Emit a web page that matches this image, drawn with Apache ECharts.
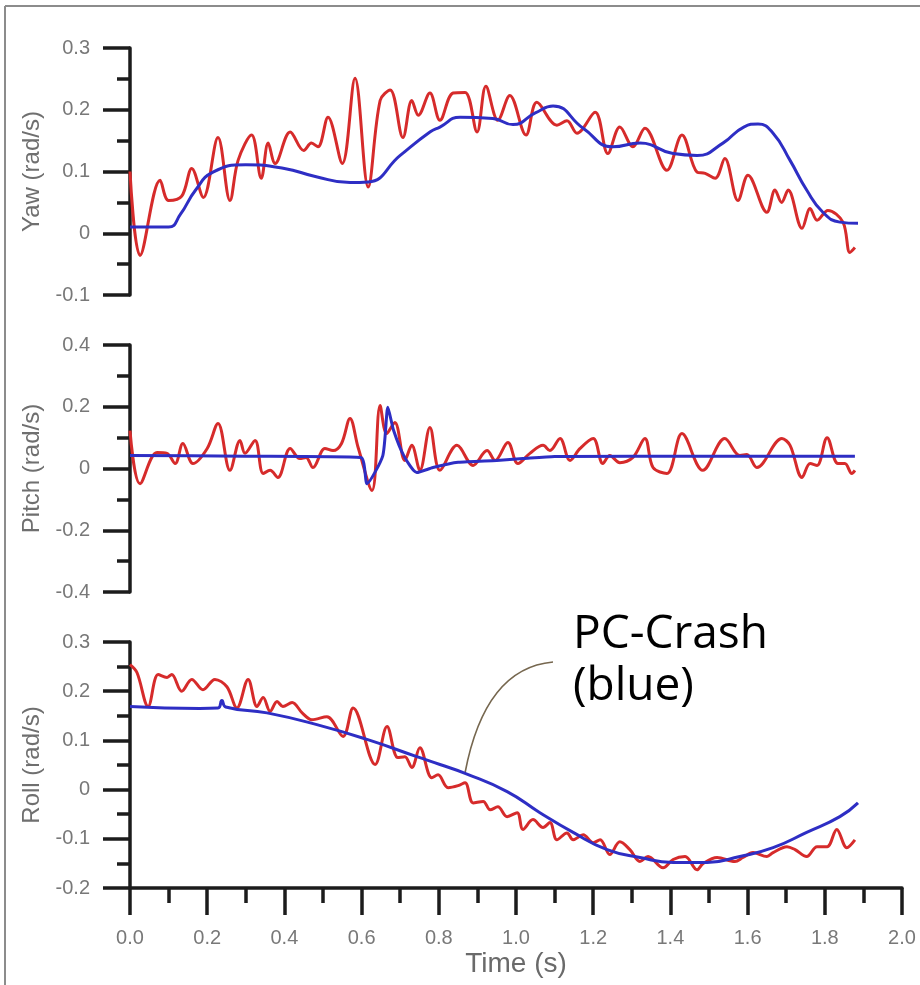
<!DOCTYPE html>
<html>
<head>
<meta charset="utf-8">
<script src="https://cdn.jsdelivr.net/npm/echarts@6/dist/echarts.min.js"></script>
<style>
  html, body { margin: 0; padding: 0; background: #fff; }
  #chart { width: 920px; height: 985px; }
</style>
</head>
<body>
<div id="chart"></div>
<script>
// x ticks
var timeTicks = [0, 0.2, 0.4, 0.6, 0.8, 1.0, 1.2, 1.4, 1.6, 1.8, 2.0];

// Yaw - test (red)
var yawTestT = [0.000,0.026,0.078,0.100,0.134,0.160,0.190,0.228,0.259,0.280,0.315,0.340,0.358,0.376,0.415,0.450,0.470,0.487,0.513,0.550,0.583,0.617,0.648,0.674,0.707,0.730,0.747,0.777,0.803,0.837,0.868,0.899,0.922,0.953,0.984,1.026,1.054,1.106,1.132,1.158,1.205,1.238,1.269,1.303,1.334,1.391,1.430,1.469,1.490,1.516,1.541,1.575,1.601,1.650,1.671,1.688,1.705,1.741,1.762,1.780,1.808,1.847,1.865,1.878];
var yawTestV = [0.100,-0.036,0.086,0.053,0.060,0.105,0.058,0.155,0.053,0.118,0.159,0.089,0.146,0.113,0.164,0.134,0.146,0.140,0.188,0.113,0.251,0.075,0.215,0.232,0.155,0.215,0.191,0.227,0.183,0.227,0.228,0.164,0.238,0.183,0.223,0.159,0.212,0.175,0.182,0.162,0.196,0.129,0.172,0.140,0.170,0.102,0.159,0.099,0.097,0.089,0.121,0.053,0.094,0.034,0.070,0.050,0.070,0.008,0.040,0.021,0.037,0.018,-0.031,-0.023];
// Yaw - PC-Crash (blue)
var yawSimT = [0.000,0.100,0.130,0.170,0.215,0.300,0.400,0.480,0.570,0.617,0.700,0.777,0.803,0.855,0.940,0.992,1.050,1.096,1.174,1.251,1.321,1.407,1.469,1.536,1.590,1.627,1.666,1.710,1.753,1.795,1.839,1.886];
var yawSimV = [0.010,0.010,0.030,0.070,0.099,0.111,0.105,0.092,0.082,0.083,0.126,0.164,0.172,0.188,0.186,0.176,0.195,0.206,0.170,0.140,0.146,0.129,0.126,0.146,0.172,0.177,0.162,0.118,0.070,0.034,0.018,0.016];

// Pitch - test (red)
var pitchTestT = [0.000,0.026,0.070,0.096,0.117,0.137,0.163,0.200,0.228,0.259,0.285,0.298,0.324,0.345,0.363,0.383,0.415,0.440,0.456,0.474,0.505,0.526,0.548,0.570,0.591,0.627,0.648,0.665,0.686,0.712,0.730,0.751,0.777,0.803,0.847,0.889,0.925,0.946,0.979,1.005,1.036,1.070,1.088,1.114,1.140,1.166,1.200,1.225,1.243,1.269,1.303,1.334,1.355,1.391,1.430,1.484,1.541,1.580,1.598,1.624,1.689,1.710,1.741,1.762,1.780,1.806,1.834,1.852,1.870,1.878];
var pitchTestV = [0.123,-0.049,0.052,0.049,0.016,0.081,0.016,0.065,0.146,-0.006,0.091,0.049,0.091,-0.016,-0.006,-0.029,0.065,0.032,0.036,0.003,0.065,0.058,0.081,0.162,0.068,-0.071,0.204,0.113,0.149,0.026,0.075,-0.006,0.133,-0.006,0.075,0.010,0.058,0.026,0.084,0.016,0.049,0.075,0.058,0.097,0.026,0.065,0.097,0.016,0.042,0.019,0.036,0.097,0.003,-0.016,0.113,-0.006,0.097,0.042,0.045,0.003,0.097,0.075,-0.029,0.016,0.010,0.100,0.016,0.016,-0.016,-0.006];
// Pitch - PC-Crash (blue)
var pitchSimT = [0.000,0.300,0.598,0.614,0.655,0.668,0.683,0.710,0.743,0.785,0.850,0.950,1.018,1.100,1.300,1.878];
var pitchSimV = [0.042,0.040,0.036,-0.049,0.042,0.198,0.123,0.040,-0.013,0.003,0.020,0.026,0.032,0.039,0.040,0.040];

// Roll - test (red)
var rollTestT = [0.000,0.018,0.047,0.073,0.096,0.108,0.134,0.160,0.189,0.220,0.251,0.277,0.306,0.329,0.345,0.363,0.381,0.396,0.420,0.446,0.471,0.510,0.552,0.578,0.635,0.666,0.694,0.712,0.730,0.751,0.782,0.798,0.824,0.850,0.868,0.889,0.915,0.933,0.953,0.977,1.003,1.018,1.044,1.070,1.088,1.106,1.132,1.148,1.174,1.200,1.218,1.243,1.269,1.295,1.321,1.342,1.381,1.407,1.438,1.469,1.485,1.521,1.567,1.588,1.614,1.650,1.666,1.702,1.723,1.753,1.780,1.806,1.831,1.857,1.878];
var rollTestV = [0.254,0.238,0.169,0.234,0.228,0.234,0.200,0.224,0.203,0.224,0.209,0.166,0.224,0.169,0.187,0.159,0.179,0.169,0.177,0.156,0.142,0.148,0.108,0.166,0.051,0.128,0.065,0.067,0.045,0.085,0.024,0.030,0.004,0.008,0.014,-0.027,-0.024,-0.041,-0.035,-0.055,-0.047,-0.081,-0.061,-0.077,-0.067,-0.102,-0.088,-0.102,-0.092,-0.108,-0.102,-0.132,-0.106,-0.122,-0.146,-0.136,-0.159,-0.142,-0.136,-0.163,-0.150,-0.138,-0.146,-0.138,-0.128,-0.136,-0.128,-0.116,-0.122,-0.136,-0.116,-0.116,-0.081,-0.118,-0.102];
// Roll - PC-Crash (blue)
var rollSimT = [0.000,0.180,0.228,0.238,0.248,0.355,0.484,0.614,0.743,0.803,0.868,0.977,1.062,1.148,1.236,1.321,1.407,1.495,1.580,1.666,1.753,1.839,1.886];
var rollSimV = [0.169,0.165,0.166,0.181,0.168,0.156,0.132,0.102,0.067,0.051,0.033,-0.004,-0.047,-0.087,-0.122,-0.138,-0.148,-0.148,-0.136,-0.118,-0.087,-0.055,-0.027];

function zip(t, v) {
  var out = [];
  for (var i = 0; i < t.length; i++) out.push([t[i], v[i]]);
  return out;
}

var RED = '#d62b2b';
var BLUE = '#2e2ec4';
var AXIS = '#1c1c1c';
var LABEL = '#787878';
var FONT = 'Liberation Sans, Arial, sans-serif';

function yAxis(idx, min, max, interval, name) {
  return {
    type: 'value', gridIndex: idx, min: min, max: max, interval: interval,
    name: name, nameLocation: 'middle', nameGap: 83,
    nameTextStyle: { fontSize: 24, color: '#6f6f6f', fontFamily: FONT },
    axisLine: { show: true, lineStyle: { color: AXIS, width: 3.5 } },
    axisTick: { show: true, length: 27, lineStyle: { color: AXIS, width: 3.5 } },
    minorTick: { show: true, splitNumber: 2, length: 13, lineStyle: { color: AXIS, width: 3.5 } },
    splitLine: { show: false },
    axisLabel: {
      margin: 40, fontSize: 20, color: LABEL, fontFamily: FONT,
      formatter: function (v) { return Math.abs(v) < 1e-9 ? '0' : v.toFixed(1); }
    }
  };
}

function xAxis(idx, show) {
  return {
    type: 'value', gridIndex: idx, min: 0, max: 2, interval: 0.2, show: show,
    name: show ? 'Time (s)' : '', nameLocation: 'middle', nameGap: 62,
    nameTextStyle: { fontSize: 28, color: '#6a6a6a', fontFamily: FONT },
    axisLine: { show: true, onZero: false, lineStyle: { color: AXIS, width: 3.5 } },
    axisTick: { show: true, length: 27, lineStyle: { color: AXIS, width: 3.5 } },
    minorTick: { show: true, splitNumber: 2, length: 15, lineStyle: { color: AXIS, width: 3.5 } },
    splitLine: { show: false },
    axisLabel: {
      margin: 40, fontSize: 20, color: LABEL, fontFamily: FONT,
      formatter: function (v) { return v.toFixed(1); }
    }
  };
}

function line(idx, data, color, smooth) {
  return {
    type: 'line', xAxisIndex: idx, yAxisIndex: idx, data: data,
    showSymbol: false, smooth: smooth, clip: false,
    lineStyle: { color: color, width: 3 }
  };
}

var chart = echarts.init(document.getElementById('chart'), null, { renderer: 'canvas' });

var option = {
  backgroundColor: '#ffffff',
  animation: false,
  grid: [
    { left: 130, right: 18, top: 48, height: 247 },
    { left: 130, right: 18, top: 345, height: 247 },
    { left: 130, right: 18, top: 642, height: 246 }
  ],
  xAxis: [xAxis(0, false), xAxis(1, false), xAxis(2, true)],
  yAxis: [
    yAxis(0, -0.1, 0.3, 0.1, 'Yaw (rad/s)'),
    yAxis(1, -0.4, 0.4, 0.2, 'Pitch (rad/s)'),
    yAxis(2, -0.2, 0.3, 0.1, 'Roll (rad/s)')
  ],
  series: [
    line(0, zip(yawTestT, yawTestV), RED, 0.35),
    line(0, zip(yawSimT, yawSimV), BLUE, 0.5),
    line(1, zip(pitchTestT, pitchTestV), RED, 0.35),
    line(1, zip(pitchSimT, pitchSimV), BLUE, 0.2),
    line(2, zip(rollTestT, rollTestV), RED, 0.35),
    line(2, zip(rollSimT, rollSimV), BLUE, 0.5)
  ],
  graphic: [
    // outer frame
    { type: 'line', shape: { x1: 5, y1: 6, x2: 5, y2: 985 }, style: { stroke: '#8c8c8c', lineWidth: 2 } },
    { type: 'line', shape: { x1: 5, y1: 6, x2: 920, y2: 6 }, style: { stroke: '#8c8c8c', lineWidth: 2 } },
    // callout
    { type: 'bezierCurve', shape: { x1: 553, y1: 662, cpx1: 485, cpy1: 668, x2: 465, y2: 773 },
      style: { stroke: '#76674f', lineWidth: 1.6, fill: null } },
    { type: 'text', left: 573, top: 612, style: { text: 'PC-Crash', font: '46px "Open Sans", sans-serif', fill: '#000' } },
    { type: 'text', left: 573, top: 664, style: { text: '(blue)', font: '46px "Open Sans", sans-serif', fill: '#000' } }
  ]
};

chart.setOption(option);
</script>
</body>
</html>
